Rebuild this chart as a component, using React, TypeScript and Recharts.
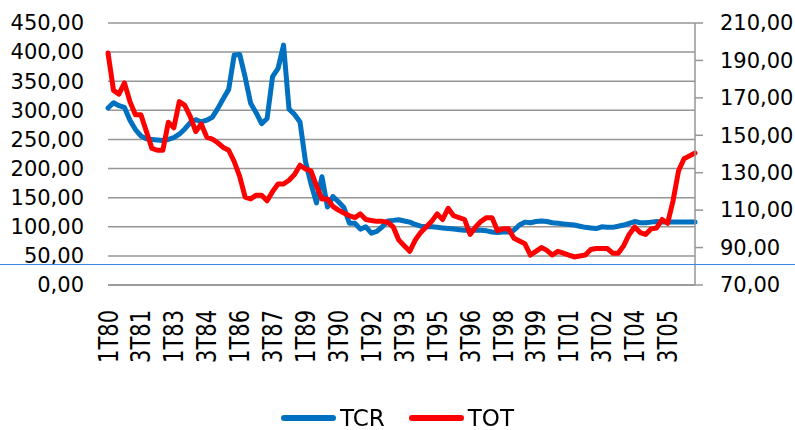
import { LineChart, Line, XAxis, YAxis, CartesianGrid, Legend } from "recharts";

// quarters 1T80 .. 4T06
const years = [80, 81, 82, 83, 84, 85, 86, 87, 88, 89, 90, 91, 92, 93, 94, 95, 96, 97, 98, 99, 0, 1, 2, 3, 4, 5, 6];
const quarterNames = ["1T", "2T", "3T", "4T"];
const categories: string[] = years.flatMap((y) =>
  quarterNames.map((q) => `${q}${String(y).padStart(2, "0")}`)
);

const tcr = [
  304, 313, 308, 305, 283, 267, 256, 251, 250, 249, 248, 250, 253, 259, 268, 279,
  284, 280, 283, 288, 303, 320, 336, 395, 396, 357, 312, 296, 277, 286, 358, 372,
  412, 302, 293, 280, 212, 174, 141, 186, 134, 152, 143, 133, 106, 106, 96, 100,
  89, 92, 100, 110, 111, 112, 110, 108, 104, 101, 100, 100, 99, 98, 97, 96,
  95, 94, 94, 94, 94, 93, 91, 90, 91, 91, 94, 103, 108, 107, 109, 110,
  109, 107, 106, 105, 104, 103, 101, 99, 98, 97, 100, 99, 99, 101, 103, 106,
  109, 107, 107, 108, 109, 108, 108, 108, 108, 108, 108, 108,
];

const tot = [
  194, 174, 172, 178, 168, 161, 161, 152, 143, 142, 142, 157, 154, 168, 166, 160,
  152, 156, 149, 148, 146, 143.5, 142, 136, 128, 117, 116, 118, 118, 115, 120, 124,
  124, 126, 129, 134, 132, 131, 123, 116, 116, 112, 110, 108.5, 107, 106, 108, 105,
  104.5, 104, 104, 103.5, 101, 94, 91, 88, 94, 98, 101, 104, 108, 105, 111, 107,
  106, 105, 97, 101, 104, 106, 106, 99, 100, 100, 95, 93.5, 92, 86, 88, 90,
  88.5, 86, 88, 87, 86, 85, 85.5, 86, 89, 89.5, 89.5, 89.5, 87, 87, 91, 97,
  101, 98, 97, 100, 100.5, 105, 103, 115, 131, 137.5, 139, 140.5,
];

const leftTicks = [0, 50, 100, 150, 200, 250, 300, 350, 400, 450];
const rightTicks = [70, 90, 110, 130, 150, 170, 190, 210];

const chartData = categories.map((q, i) => ({ q, TCR: tcr[i], TOT: tot[i] }));

const FONT = "'DejaVu Sans', sans-serif";
const GREY = "#969696";
const fmt = (v: number) => v.toFixed(2).replace(".", ",");

function LeftTick({ x, y, payload }: any) {
  return (
    <text x={x} y={y} dy="0.35em" textAnchor="end" fontSize={21} fontFamily={FONT} fill="#000">
      {fmt(payload.value)}
    </text>
  );
}

function RightTick({ x, y, payload }: any) {
  return (
    <text x={x} y={y} dy="0.35em" textAnchor="start" fontSize={21} fontFamily={FONT} fill="#000">
      {fmt(payload.value)}
    </text>
  );
}

function BottomTick({ x, y, payload }: any) {
  return (
    <g transform={`translate(${x},${y})`}>
      <text
        transform="scale(1.3,1) rotate(-90)"
        textAnchor="end"
        dy="0.35em"
        fontSize={21}
        fontFamily={FONT}
        fill="#000"
      >
        {payload.value}
      </text>
    </g>
  );
}

function LegendBox() {
  const items = [
    { name: "TCR", color: "#0070C0" },
    { name: "TOT", color: "#FF0000" },
  ];
  return (
    <div style={{ display: "flex", justifyContent: "center", alignItems: "center", height: 36 }}>
      {items.map((it) => (
        <div key={it.name} style={{ display: "flex", alignItems: "center", margin: "0 12px" }}>
          <div style={{ width: 55, height: 6, borderRadius: 3, background: it.color, marginRight: 4 }} />
          <span style={{ fontFamily: FONT, fontSize: 23, color: "#000" }}>{it.name}</span>
        </div>
      ))}
    </div>
  );
}

export default function App() {
  return (
    <div style={{ position: "fixed", left: 0, top: 0, width: 795, height: 430, background: "#fff" }}>
      <LineChart
        width={795}
        height={430}
        data={chartData}
        margin={{ top: 23, right: 10, bottom: 29, left: 8 }}
      >
        <CartesianGrid yAxisId="left" horizontal vertical={false} stroke={GREY} strokeWidth={1.5} />
        <XAxis
          dataKey="q"
          interval={5}
          tickLine={false}
          axisLine={{ stroke: GREY, strokeWidth: 1.5 }}
          tick={<BottomTick />}
          tickMargin={19}
          height={80}
        />
        <YAxis
          yAxisId="left"
          domain={[0, 450]}
          ticks={leftTicks}
          axisLine={false}
          tickLine={false}
          tickMargin={18}
          width={100}
          tick={<LeftTick />}
        />
        <YAxis
          yAxisId="right"
          orientation="right"
          domain={[70, 210]}
          ticks={rightTicks}
          axisLine={{ stroke: GREY, strokeWidth: 1.5 }}
          tickLine={{ stroke: GREY, strokeWidth: 1.5 }}
          tickSize={8}
          tickMargin={17}
          width={90}
          tick={<RightTick />}
        />
        <Legend
          verticalAlign="bottom"
          content={<LegendBox />}
          wrapperStyle={{ position: "absolute", left: 0, top: 400, width: 795, height: 36 }}
        />
        <Line
          yAxisId="left"
          type="linear"
          dataKey="TCR"
          stroke="#0070C0"
          strokeWidth={5}
          strokeLinejoin="round"
          strokeLinecap="round"
          dot={false}
          isAnimationActive={false}
        />
        <Line
          yAxisId="right"
          type="linear"
          dataKey="TOT"
          stroke="#FF0000"
          strokeWidth={5}
          strokeLinejoin="round"
          strokeLinecap="round"
          dot={false}
          isAnimationActive={false}
        />
      </LineChart>
      <div style={{ position: "absolute", left: 0, top: 264, width: 795, height: 1, background: "#3b86e6" }} />
    </div>
  );
}
